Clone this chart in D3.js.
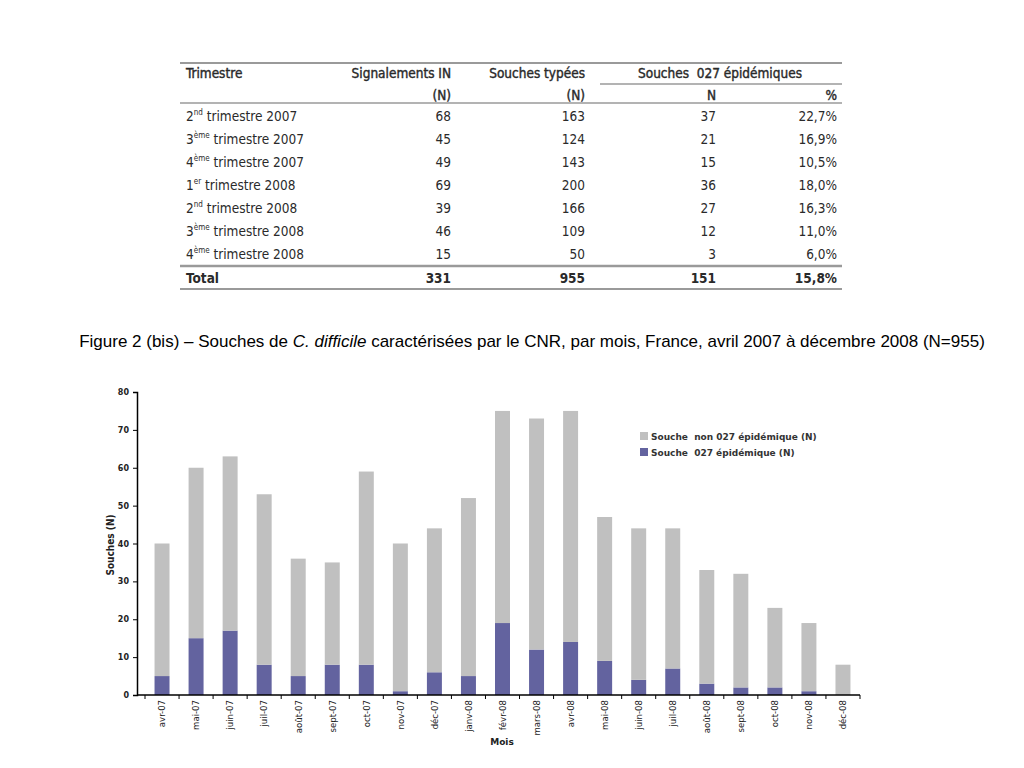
<!DOCTYPE html>
<html><head><meta charset="utf-8">
<script src="https://cdnjs.cloudflare.com/ajax/libs/d3/7.8.5/d3.min.js"></script>
<style>body{margin:0;background:#fff}svg{display:block}text{white-space:pre}</style>
</head><body>
<svg id="c" width="1024" height="768"></svg>
<script>
// ---- Data ----
const months = ["avr-07","mai-07","juin-07","juil-07","août-07","sept-07","oct-07","nov-07","déc-07","janv-08","févr-08","mars-08","avr-08","mai-08","juin-08","juil-08","août-08","sept-08","oct-08","nov-08","déc-08"];
const epidemic = [5,15,17,8,5,8,8,1,6,5,19,12,14,9,4,7,3,2,2,1,0];
const nonEpidemic = [35,45,46,45,31,27,51,39,38,47,56,61,61,38,40,37,30,30,21,18,8];
const seriesNames = ["Souche  non 027 épidémique (N)","Souche  027 épidémique (N)"];
const yTicks = [0,10,20,30,40,50,60,70,80];

const trimNum = ["2","3","4","1","2","3","4"];
const trimSup = ["nd","ème","ème","er","nd","ème","ème"];
const trimYear = ["2007","2007","2007","2008","2008","2008","2008"];
const signalements = [68,45,49,69,39,46,15];
const souchesTypees = [163,124,143,200,166,109,50];
const souches027N = [37,21,15,36,27,12,3];
const souches027Pct = ["22,7%","16,9%","10,5%","18,0%","16,3%","11,0%","6,0%"];
const totalRow = ["Total","331","955","151","15,8%"];

const svg = d3.select("#c");

// ---- Table ----
const tf = "'DejaVu Sans Condensed','Liberation Sans Narrow',sans-serif";
const tcol = "#2a2a2a";
const T = svg.append("g").attr("font-family", tf).attr("font-size", 13.5).attr("fill", tcol);
const lineCol = "#9a9a9a";
function hline(x1,x2,y,w){ T.append("line").attr("x1",x1).attr("x2",x2).attr("y1",y).attr("y2",y).attr("stroke",lineCol).attr("stroke-width",w); }
hline(180,842,63,2);
hline(600,842,84,1.5);
hline(180,842,103,1.5);
hline(180,842,266,2.5);
hline(180,842,289,2);
const colX = [186,451,585,716,837];
function txt(x,y,s,anchor,weight){ return T.append("text").attr("x",x).attr("y",y).attr("text-anchor",anchor||"start").attr("font-weight",weight||"normal").text(s); }
function head(x,y,s,anchor){ return txt(x,y,s,anchor).attr("stroke",tcol).attr("stroke-width",0.4); }
head(186,78,"Trimestre","start");
head(451,78,"Signalements IN","end");
head(585,78,"Souches typées","end");
head(720,78,"Souches  027 épidémiques","middle");
head(451,100,"(N)","end");
head(585,100,"(N)","end");
head(716,100,"N","end");
head(837,100,"%","end");
const rowY = d3.range(7).map(i => 121 + i*23);
trimNum.forEach((n,i)=>{
  const t = T.append("text").attr("x",186).attr("y",rowY[i]);
  t.append("tspan").text(n);
  t.append("tspan").attr("font-size",8).attr("dy",-6).text(trimSup[i]);
  t.append("tspan").attr("dy",6).text(" trimestre " + trimYear[i]);
  txt(colX[1],rowY[i],signalements[i],"end");
  txt(colX[2],rowY[i],souchesTypees[i],"end");
  txt(colX[3],rowY[i],souches027N[i],"end");
  txt(colX[4],rowY[i],souches027Pct[i],"end");
});
totalRow.forEach((s,j)=>txt(colX[j],283,s,j===0?"start":"end","bold"));

// ---- Title ----
const title = svg.append("text").attr("x",532).attr("y",347).attr("text-anchor","middle")
  .attr("font-family","'Liberation Sans',Arial,sans-serif").attr("font-size",17).attr("fill","#000");
title.append("tspan").text("Figure 2 (bis) – Souches de ");
title.append("tspan").attr("font-style","italic").text("C. difficile");
title.append("tspan").text(" caractérisées par le CNR, par mois, France, avril 2007 à décembre 2008 (N=955)");

// ---- Chart ----
const x0 = 137, x1 = 860, yTop = 392, yBot = 695;
const x = d3.scaleBand().domain(months).range([145,x1]).paddingInner(0.56).paddingOuter(0.28);
const y = d3.scaleLinear().domain([0,80]).range([yBot,yTop]);
const colors = ["#c0c0c0","#63639f"];
const data = months.map((m,i)=>({m, epi: epidemic[i], non: nonEpidemic[i]}));
const stack = d3.stack().keys(["epi","non"])(data);
const G = svg.append("g");
G.selectAll("g.s").data(stack).join("g").attr("fill",(d,i)=> i===0 ? colors[1] : colors[0])
  .selectAll("rect").data(d=>d).join("rect")
  .attr("x",d=>x(d.data.m)).attr("width",x.bandwidth())
  .attr("y",d=>y(d[1])).attr("height",d=>y(d[0])-y(d[1]));

// y axis
const yAxis = G.append("g").attr("transform",`translate(${x0},0)`)
  .call(d3.axisLeft(y).tickValues(yTicks).tickSize(4).tickPadding(4));
yAxis.select(".domain").attr("stroke","#000").attr("stroke-width",1.5);
yAxis.selectAll("text").attr("font-family","'DejaVu Sans',Verdana,sans-serif").attr("font-size",8).attr("font-weight","bold").attr("fill","#222");

// x axis
const xAxis = G.append("g").attr("transform",`translate(0,${yBot})`)
  .call(d3.axisBottom(x).tickSize(0).tickPadding(4));
xAxis.select(".domain").attr("stroke","#000").attr("stroke-width",1.5).attr("d",`M${x0},0H${x1}`);
xAxis.selectAll(".tick text").attr("transform","rotate(-90)").attr("text-anchor","end")
  .attr("x",-5).attr("y",0).attr("dy","0.35em")
  .attr("font-family",tf).attr("font-size",9.5).attr("fill","#222");
// separator ticks between bands
const step = x.step();
const sepX = months.map(m => x(m) - (step - x.bandwidth())/2).concat([x(months[months.length-1]) + x.bandwidth() + (step - x.bandwidth())/2]);
G.selectAll("line.sep").data(sepX).join("line").attr("class","sep")
  .attr("x1",d=>d).attr("x2",d=>d).attr("y1",yBot).attr("y2",yBot+4).attr("stroke","#000");

// axis labels
svg.append("text").attr("transform",`translate(114,545) rotate(-90)`).attr("text-anchor","middle")
  .attr("font-family",tf).attr("font-size",10).attr("font-weight","bold").attr("fill","#222").text("Souches (N)");
svg.append("text").attr("x",502).attr("y",745).attr("text-anchor","middle")
  .attr("font-family","'DejaVu Sans',Verdana,sans-serif").attr("font-size",9).attr("font-weight","bold").attr("fill","#222").text("Mois");

// legend
const L = svg.append("g").attr("transform","translate(640,432)");
seriesNames.forEach((s,i)=>{
  L.append("rect").attr("x",0).attr("y",i*16).attr("width",8).attr("height",8).attr("fill",colors[i]);
  L.append("text").attr("x",11).attr("y",i*16+8).attr("font-family","'DejaVu Sans',Verdana,sans-serif")
    .attr("font-size",9).attr("font-weight","bold").attr("fill","#333").text(s);
});
</script>
</body></html>
